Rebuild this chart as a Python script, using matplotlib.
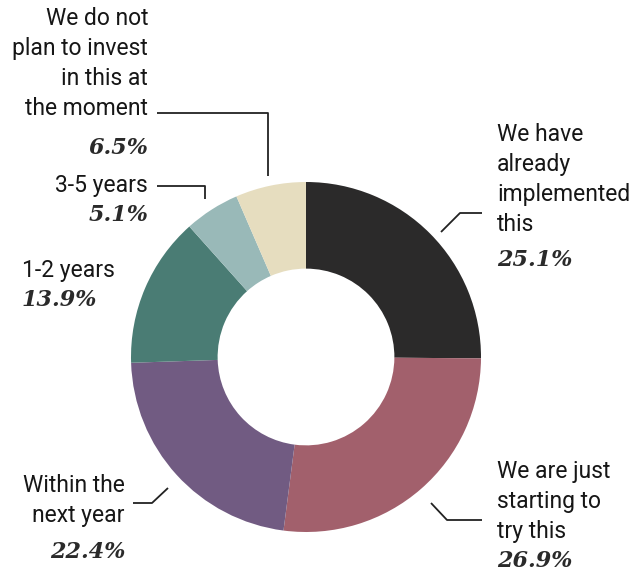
import matplotlib
matplotlib.use("Agg")
import matplotlib.pyplot as plt

labels = ["We have\nalready\nimplemented\nthis", "We are just\nstarting to\ntry this",
          "Within the\nnext year", "1-2 years", "3-5 years",
          "We do not\nplan to invest\nin this at\nthe moment"]
values = [25.1, 26.9, 22.4, 13.9, 5.1, 6.5]
colors = ["#2b2a2a", "#a2606c", "#715b82", "#4a7c74", "#99b9b8", "#e6ddbf"]

W, H = 633, 572
fig = plt.figure(figsize=(W / 100, H / 100), dpi=100)
ax = fig.add_axes([0, 0, 1, 1])
ax.set_xlim(0, W)
ax.set_ylim(0, H)
ax.set_aspect("equal")
ax.axis("off")

def py(y):
    return H - y

cx, cy, R = 306, 357, 175
ax.pie(values, colors=colors, startangle=90, counterclock=False,
       center=(cx, py(cy)), radius=R, wedgeprops=dict(width=R * 0.495, linewidth=0))
ax.set_xlim(0, W)
ax.set_ylim(0, H)

sans = "Roboto"
tfs = 16.5
pfs = 16

def lab(x, y, text, ha):
    # y is the baseline of the last line
    ax.text(x, py(y), text, ha=ha, va="baseline", fontsize=tfs, family=sans,
            color="#161616", linespacing=1.38, multialignment=ha)

def pct(x, y, text, ha):
    ax.text(x, py(y), text, ha=ha, va="baseline", fontsize=pfs, family="DejaVu Serif",
            weight="bold", style="italic", color="#2a2a2a")

def line(pts):
    xs = [p[0] for p in pts]
    ys = [py(p[1]) for p in pts]
    ax.plot(xs, ys, color="#222222", lw=1.3, solid_capstyle="butt")

# top-left label (6.5%)
lab(148, 115, labels[5], "right")
pct(148, 154, "%.1f%%" % values[5], "right")
line([(157, 113), (268, 113), (268, 176)])

# 3-5 years
lab(148, 192, labels[4], "right")
pct(148, 221, "%.1f%%" % values[4], "right")
line([(157, 186), (205, 186), (205, 199)])

# 1-2 years
lab(22, 277, labels[3], "left")
pct(22, 306, "%.1f%%" % values[3], "left")

# Within the next year
lab(125, 522, labels[2], "right")
pct(125, 558, "%.1f%%" % values[2], "right")
line([(133, 503), (152, 503), (168, 488)])

# We have already implemented this
lab(497, 231, labels[0], "left")
pct(497, 266, "%.1f%%" % values[0], "left")
line([(482, 213), (460, 213), (441, 232)])

# We are just starting to try this
lab(497, 538, labels[1], "left")
pct(497, 567, "%.1f%%" % values[1], "left")
line([(482, 520), (447, 520), (431, 503)])

fig.savefig("out.png", dpi=100)
